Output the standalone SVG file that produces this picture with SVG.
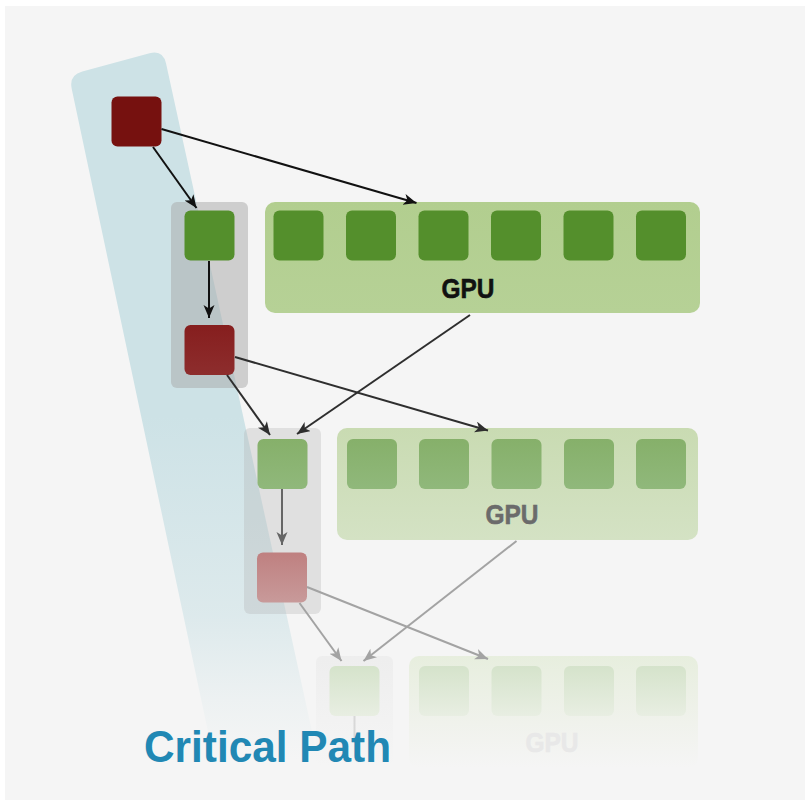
<svg xmlns="http://www.w3.org/2000/svg" width="805" height="800" viewBox="0 0 805 800">
<defs>
  <style>
    .lbl{font-family:"Liberation Sans",Arial,sans-serif;font-weight:bold;text-anchor:middle;stroke-width:0.6;}
    .e{fill:none;stroke-width:2;}
    .n1g{fill:#548f2c;}
    .n2g{fill:url(#g2green);}
    .n3g{fill:url(#g3green);}
  </style>
  <linearGradient id="band" gradientUnits="userSpaceOnUse" x1="0" y1="0" x2="0" y2="800">
    <stop offset="0" stop-color="#cde2e6" stop-opacity="1"/>
    <stop offset="0.52" stop-color="#cde2e6" stop-opacity="1"/>
    <stop offset="0.77" stop-color="#cde2e6" stop-opacity="0.6"/>
    <stop offset="0.875" stop-color="#cde2e6" stop-opacity="0.2"/>
    <stop offset="0.95" stop-color="#cde2e6" stop-opacity="0"/>
  </linearGradient>
  <linearGradient id="gpu1" x1="0" y1="0" x2="0" y2="1">
    <stop offset="0" stop-color="#b2ce8f"/>
    <stop offset="1" stop-color="#b6d196"/>
  </linearGradient>
  <linearGradient id="red2" x1="0" y1="0" x2="0" y2="1">
    <stop offset="0" stop-color="#861e1e"/>
    <stop offset="1" stop-color="#8d2d2d"/>
  </linearGradient>
  <linearGradient id="g2green" x1="0" y1="0" x2="0" y2="1">
    <stop offset="0" stop-color="#86b06a"/>
    <stop offset="1" stop-color="#90b87b"/>
  </linearGradient>
  <linearGradient id="gpu2" x1="0" y1="0" x2="0" y2="1">
    <stop offset="0" stop-color="#c9dbb2"/>
    <stop offset="1" stop-color="#d4e2c4"/>
  </linearGradient>
  <linearGradient id="red3" x1="0" y1="0" x2="0" y2="1">
    <stop offset="0" stop-color="#bf8080"/>
    <stop offset="1" stop-color="#c89a9a"/>
  </linearGradient>
  <linearGradient id="g3green" x1="0" y1="0" x2="0" y2="1">
    <stop offset="0" stop-color="#d5e3cb"/>
    <stop offset="1" stop-color="#e8eee2"/>
  </linearGradient>
  <linearGradient id="gpu3" x1="0" y1="0" x2="0" y2="1">
    <stop offset="0" stop-color="#e7eede"/>
    <stop offset="0.6" stop-color="#f0f2ec"/>
    <stop offset="1" stop-color="#f5f5f5"/>
  </linearGradient>
  <linearGradient id="col3" x1="0" y1="0" x2="0" y2="1">
    <stop offset="0" stop-color="#ececec"/>
    <stop offset="1" stop-color="#f5f5f5"/>
  </linearGradient>
  <marker id="a1" markerUnits="userSpaceOnUse" markerWidth="15" markerHeight="12" refX="13" refY="5.5" orient="auto">
    <path d="M0,0 L13,5.5 L0,11 L3.5,5.5 Z" fill="#111"/>
  </marker>
  <marker id="a2" markerUnits="userSpaceOnUse" markerWidth="15" markerHeight="12" refX="13" refY="5.5" orient="auto">
    <path d="M0,0 L13,5.5 L0,11 L3.5,5.5 Z" fill="#2e2e2e"/>
  </marker>
  <marker id="a3" markerUnits="userSpaceOnUse" markerWidth="15" markerHeight="12" refX="13" refY="5.5" orient="auto">
    <path d="M0,0 L13,5.5 L0,11 L3.5,5.5 Z" fill="#666"/>
  </marker>
  <marker id="a4" markerUnits="userSpaceOnUse" markerWidth="15" markerHeight="12" refX="13" refY="5.5" orient="auto">
    <path d="M0,0 L13,5.5 L0,11 L3.5,5.5 Z" fill="#a3a3a3"/>
  </marker>
</defs>

<rect x="0" y="0" width="805" height="800" fill="#ffffff"/>
<rect x="5" y="6" width="800" height="794" fill="#f5f5f5"/>

<g id="critical-band">
  <path d="M71.7,88.7 Q68.8,75 82.3,71.4 L149.5,53.2 Q163,49.6 166,63.3 L327,800 L222.5,800 Z" fill="url(#band)"/>
</g>

<g id="column1"><rect x="171" y="202" width="77" height="186" rx="6" fill="#a8a8a8" fill-opacity="0.5"/></g>
<g id="column2"><rect x="244" y="428" width="77" height="186" rx="6" fill="#b0b0b0" fill-opacity="0.3"/></g>
<g id="column3"><rect x="316" y="656" width="77" height="110" rx="6" fill="url(#col3)" fill-opacity="0.8"/></g>

<g id="gpu-1">
  <rect x="265" y="202" width="435" height="111" rx="10" fill="url(#gpu1)"/>
  <rect class="n1g" x="273.5" y="210.5" width="50" height="50" rx="6"/>
  <rect class="n1g" x="346" y="210.5" width="50" height="50" rx="6"/>
  <rect class="n1g" x="418.5" y="210.5" width="50" height="50" rx="6"/>
  <rect class="n1g" x="491" y="210.5" width="50" height="50" rx="6"/>
  <rect class="n1g" x="563.5" y="210.5" width="50" height="50" rx="6"/>
  <rect class="n1g" x="636" y="210.5" width="50" height="50" rx="6"/>
  <text class="lbl" x="468" y="298" font-size="28" fill="#111" stroke="#111" textLength="53" lengthAdjust="spacingAndGlyphs">GPU</text>
</g>
<g id="gpu-2">
  <rect x="337" y="428" width="361" height="112" rx="10" fill="url(#gpu2)"/>
  <rect class="n2g" x="347" y="439" width="50" height="50" rx="6"/>
  <rect class="n2g" x="419" y="439" width="50" height="50" rx="6"/>
  <rect class="n2g" x="491.5" y="439" width="50" height="50" rx="6"/>
  <rect class="n2g" x="564" y="439" width="50" height="50" rx="6"/>
  <rect class="n2g" x="636" y="439" width="50" height="50" rx="6"/>
  <text class="lbl" x="512" y="524" font-size="28" fill="#6b6b6b" stroke="#6b6b6b" textLength="53" lengthAdjust="spacingAndGlyphs">GPU</text>
</g>
<g id="gpu-3">
  <rect x="409" y="656" width="289" height="112" rx="10" fill="url(#gpu3)"/>
  <rect class="n3g" x="419" y="666" width="50" height="50" rx="6"/>
  <rect class="n3g" x="491.5" y="666" width="50" height="50" rx="6"/>
  <rect class="n3g" x="564" y="666" width="50" height="50" rx="6"/>
  <rect class="n3g" x="636" y="666" width="50" height="50" rx="6"/>
  <text class="lbl" x="552" y="752" font-size="28" fill="#e8e8e8" stroke="#e8e8e8" textLength="53" lengthAdjust="spacingAndGlyphs">GPU</text>
</g>

<g id="cpu-red-1"><rect x="111.5" y="96.5" width="50" height="50" rx="6" fill="#76110f"/></g>
<g id="cpu-green-1"><rect class="n1g" x="184.5" y="210.5" width="50" height="50" rx="6"/></g>
<g id="cpu-red-2"><rect x="184.5" y="325" width="50" height="50" rx="6" fill="url(#red2)"/></g>
<g id="cpu-green-2"><rect class="n2g" x="257.5" y="439" width="50" height="50" rx="6"/></g>
<g id="cpu-red-3"><rect x="257" y="552.5" width="50" height="50" rx="6" fill="url(#red3)"/></g>
<g id="cpu-green-3"><rect class="n3g" x="329.5" y="666" width="50" height="50" rx="6"/></g>

<g id="connectors">
  <path class="e" stroke="#111" marker-end="url(#a1)" d="M153,147 L196.5,208"/>
  <path class="e" stroke="#111" marker-end="url(#a1)" d="M161.5,129 L416.5,203"/>
  <path class="e" stroke="#111" marker-end="url(#a1)" d="M209,261 L209,318"/>
  <path class="e" stroke="#2e2e2e" marker-end="url(#a2)" d="M235,357 L488,430.5"/>
  <path class="e" stroke="#2e2e2e" marker-end="url(#a2)" d="M227,375 L270,435"/>
  <path class="e" stroke="#2e2e2e" marker-end="url(#a2)" d="M470,315 L297,434"/>
  <path class="e" stroke="#666" marker-end="url(#a3)" d="M282,489 L282,545"/>
  <path class="e" stroke="#a3a3a3" marker-end="url(#a4)" d="M307,587 L488,659"/>
  <path class="e" stroke="#a3a3a3" marker-end="url(#a4)" d="M299.5,603 L341.5,661"/>
  <path class="e" stroke="#a3a3a3" marker-end="url(#a4)" d="M516.5,541 L363.5,661"/>
  <path class="e" stroke="#d8d8d8" d="M354.5,716 L354.5,740"/>
</g>

<text x="144" y="762" font-family="Liberation Sans, Arial, sans-serif" font-weight="bold" font-size="45" fill="#2188b4" textLength="247" lengthAdjust="spacingAndGlyphs">Critical Path</text>
</svg>
